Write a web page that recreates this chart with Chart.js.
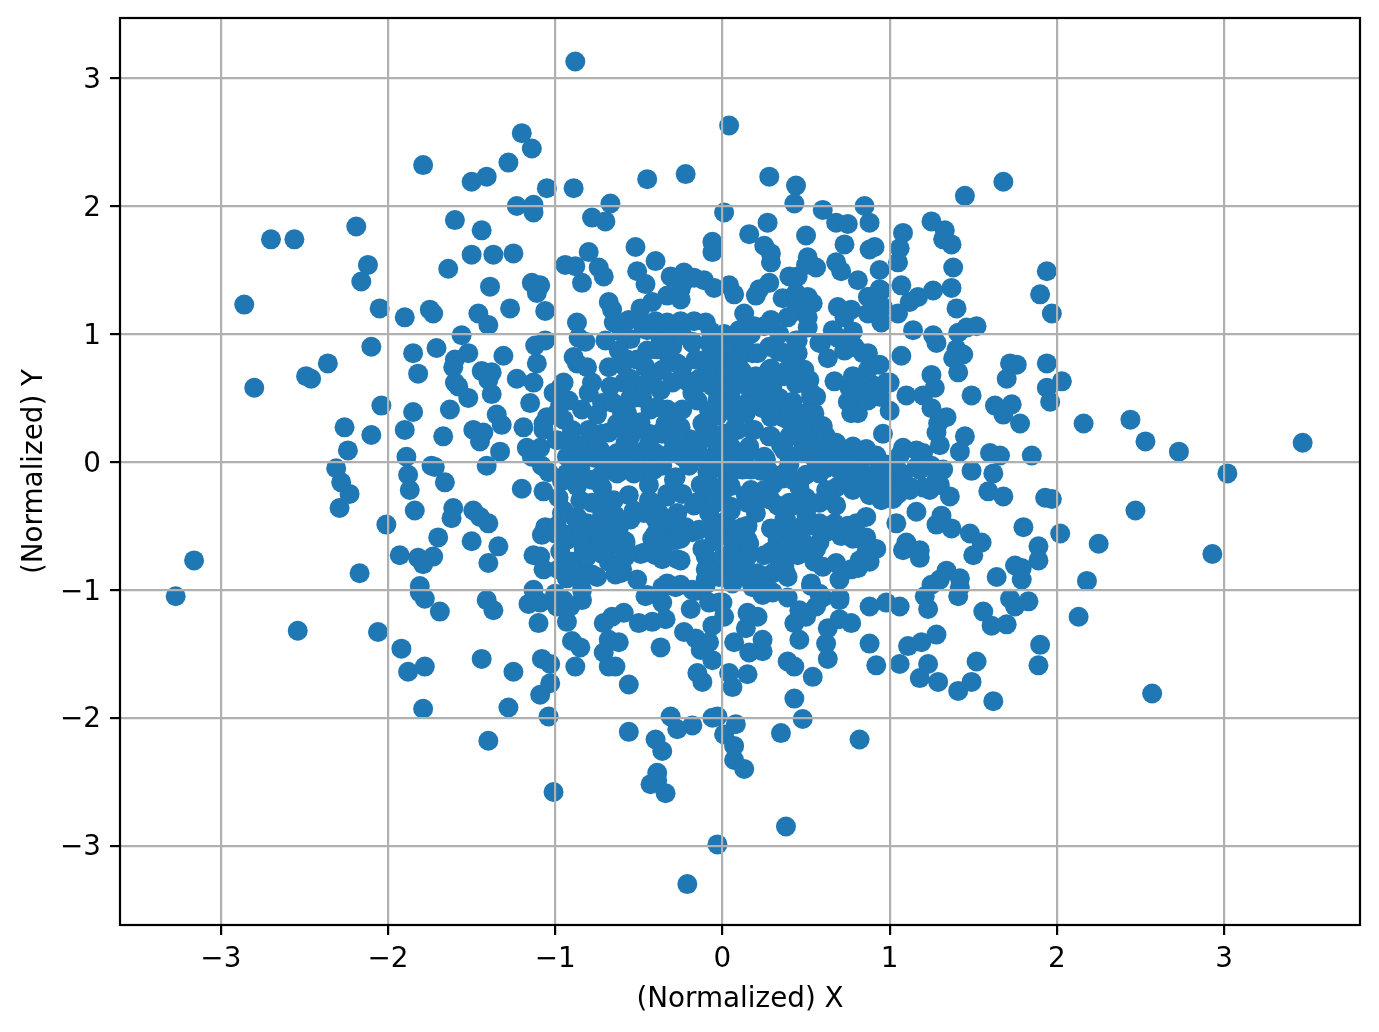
<!DOCTYPE html>
<html>
<head>
<meta charset="utf-8">
<style>
  html, body { margin: 0; padding: 0; background: #fff; }
  canvas { display: block; }
</style>
<script src="https://cdn.jsdelivr.net/npm/chart.js@4"></script>
</head>
<body>
<canvas id="myChart" width="1379" height="1032"></canvas>
<script>
// values, [x, y], grouped by quadrant
const upperLeft = [
  [-0.88,3.13],[-1.20,2.57],[-1.14,2.45],[-1.28,2.34],[-1.79,2.32],[-0.22,2.25],[-1.41,2.23],[-1.50,2.19],[-0.45,2.21],[-0.89,2.14],
  [-1.05,2.14],[-1.23,2.00],[-1.13,2.01],[-1.13,1.95],[-0.67,2.02],[-0.78,1.91],[-0.70,1.88],[-1.60,1.89],[-2.19,1.84],[-1.44,1.81],
  [-2.70,1.74],[-2.56,1.74],[-0.06,1.72],[-0.06,1.64],[-0.52,1.68],[-0.80,1.64],[-1.25,1.63],[-1.50,1.62],[-1.37,1.62],[-0.40,1.57],
  [-2.12,1.54],[-2.16,1.41],[-1.64,1.51],[-0.94,1.54],[-0.88,1.53],[-0.74,1.52],[-0.71,1.45],[-0.84,1.40],[-0.51,1.49],[-0.31,1.45],
  [-0.23,1.48],[-0.23,1.41],[-0.17,1.44],[-0.11,1.42],[-1.14,1.40],[-1.09,1.38],[-1.11,1.32],[-0.46,1.39],[-1.39,1.37],[-0.05,1.36],
  [-0.25,1.35],[-0.33,1.30],[-0.25,1.27],[-0.42,1.25],[-0.68,1.25],[-0.66,1.19],[-0.49,1.20],[-1.27,1.20],[-2.05,1.20],[-2.86,1.23],
  [-1.75,1.19],[-1.73,1.16],[-1.90,1.13],[-1.46,1.16],[-1.06,1.18],[-1.40,1.07],[-1.56,0.99],[-1.06,0.95],[-1.12,0.91],[-1.11,0.77],
  [-1.85,0.85],[-1.71,0.89],[-1.52,0.85],[-1.31,0.83],[-1.60,0.80],[-1.61,0.74],[-1.82,0.69],[-1.44,0.71],[-1.38,0.70],[-1.40,0.64],
  [-1.23,0.65],[-1.13,0.62],[-1.60,0.62],[-1.58,0.59],[-1.52,0.50],[-1.38,0.53],[-1.63,0.41],[-1.85,0.39],[-1.15,0.46],[-1.35,0.37],
  [-1.32,0.29],[-1.49,0.25],[-1.43,0.23],[-1.45,0.16],[-1.67,0.20],[-1.90,0.25],[-1.19,0.27],[-1.07,0.30],[-0.95,0.33],[-1.33,0.08],
  [-1.89,0.04],[-1.17,0.11],[-1.09,0.11],[-1.14,0.04],[-0.97,0.58],[-0.95,0.62],[-1.01,0.54],[-0.80,0.54],[-0.84,0.41],[-0.75,0.37],
  [-0.67,0.59],[-0.59,0.62],[-0.53,0.50],[-0.68,0.23],[-0.63,0.27],[-0.89,0.82],[-0.87,0.77],[-0.81,0.74],[-0.68,0.74],[-0.60,0.76],
  [-0.51,0.80],[-0.87,1.09],[-0.86,0.97],[-0.82,0.94],[-0.65,1.09],[-0.56,1.11],[-0.48,1.09],[-0.40,1.10],[-0.33,1.09],[-0.25,1.10],
  [-0.17,1.10],[-0.10,1.09],[-0.33,1.03],[-0.45,1.03],[-0.55,0.96],[-0.46,0.74],[-0.39,0.88],[-0.30,0.90],[-0.18,0.93],[-0.06,0.85],
  [-0.27,0.77],[-0.36,0.72],[-0.48,0.60],[-0.37,0.56],[-0.30,0.62],[-0.21,0.63],[-0.09,0.70],[-0.06,0.59],[-0.03,0.48],[-0.15,0.48],
  [-0.24,0.41],[-0.33,0.41],[-0.43,0.41],[-0.60,0.38],[-0.49,0.31],[-0.33,0.23],[-0.37,0.23],[-0.13,0.17],[-0.07,0.23],[-0.03,0.12],
  [-0.55,0.08],[-0.48,0.08],[-0.40,0.07],[-0.73,0.07],[-0.90,0.16],[-0.84,0.13],[-0.89,0.04],[-0.81,0.04],[-0.31,0.07],[-0.24,0.04],
  [-0.18,0.09],[-0.12,0.04],[-0.03,0.36],[-0.08,0.40],[-0.12,0.30],[-0.04,0.74],[-0.08,0.93],[-0.02,0.95],[-0.20,0.18],[-0.29,0.15],
  [-0.34,0.30],[-0.30,0.36],[-0.48,0.50],[-0.42,0.66],[-0.55,0.65],[-0.33,0.85],[-0.24,0.74],[-0.14,0.65],[-0.04,0.65],[-0.45,0.87],
  [-0.37,0.96],[-0.24,0.99],[-0.07,1.02],[-0.72,0.22],[-0.62,0.05],[-0.68,0.04],[-0.44,0.22],[-0.25,0.27],[-0.04,0.02],[-0.76,0.03],
  [-2.24,0.09],[-2.26,0.27],[-2.10,0.21],[-2.04,0.44],[-2.49,0.67],[-2.46,0.65],[-2.36,0.77],[-2.80,0.58],[-2.10,0.90],[-0.47,1.04],
  [-0.35,0.93],[-0.18,0.94],[-0.16,0.80],[-0.08,0.82],[-0.12,0.62],[-0.18,0.54],[-0.39,0.43],[-0.57,0.38],[-0.63,0.30],
  [-0.28,0.27],[-0.36,0.22],[-0.28,0.20],[-0.16,0.17],[-0.93,0.17],[-0.93,0.04],[-0.73,0.09],[-0.63,0.07],[-0.53,0.04],[-0.41,0.04],
  [-0.28,0.07],[-0.99,0.17],[-0.99,0.38],[-1.05,0.35],[-1.07,0.25],[-0.49,0.80],[-0.57,0.80],[-0.45,0.61],[-0.78,0.62],
  [-0.72,0.46],[-0.65,0.46],[-0.55,0.50],[-0.75,0.18],[-0.55,0.20],[-0.52,0.28],[-0.58,0.15],[-0.44,0.14],[-0.90,0.25],[-0.97,0.45],
  [-0.92,0.48],[-0.62,0.87],[-0.70,0.95],[-0.60,1.01],[-0.80,0.25]
];
const upperRight = [
  [0.04,2.63],[0.28,2.23],[0.44,2.16],[1.68,2.19],[1.45,2.08],[0.43,2.02],[0.85,2.00],[0.60,1.97],[0.01,1.95],[0.27,1.87],
  [0.68,1.87],[0.75,1.86],[0.88,1.87],[1.25,1.88],[1.33,1.81],[1.08,1.79],[1.32,1.74],[1.37,1.70],[0.50,1.77],[0.16,1.78],
  [0.91,1.68],[0.88,1.66],[0.73,1.70],[0.25,1.69],[0.29,1.63],[0.29,1.56],[1.06,1.67],[1.05,1.56],[0.51,1.60],[0.50,1.54],
  [0.56,1.52],[0.68,1.56],[0.71,1.49],[0.94,1.50],[1.38,1.52],[1.94,1.49],[0.40,1.45],[0.45,1.45],[0.81,1.42],[0.04,1.38],
  [0.28,1.40],[0.22,1.35],[0.20,1.30],[0.07,1.31],[0.87,1.29],[0.95,1.34],[1.07,1.38],[1.26,1.34],[1.37,1.36],[1.90,1.31],
  [1.17,1.29],[1.12,1.25],[1.40,1.20],[1.97,1.16],[0.36,1.28],[0.44,1.32],[0.51,1.29],[0.54,1.24],[0.44,1.18],[0.13,1.16],
  [0.88,1.29],[0.94,1.35],[0.96,1.21],[1.05,1.16],[0.87,1.16],[0.95,1.09],[0.69,1.21],[0.77,1.19],[0.73,1.13],[0.29,1.11],
  [0.39,1.13],[0.51,1.13],[0.51,1.05],[0.66,1.03],[0.78,1.02],[1.14,1.03],[1.26,0.99],[1.28,0.93],[1.41,1.01],[1.46,1.05],
  [1.52,1.06],[1.40,0.88],[1.44,0.84],[1.38,0.81],[1.41,0.70],[1.07,0.83],[1.25,0.68],[1.27,0.58],[1.49,0.52],[1.10,0.52],
  [1.20,0.52],[1.25,0.42],[1.29,0.30],[1.34,0.35],[1.28,0.23],[1.30,0.13],[1.45,0.20],[1.42,0.08],[0.96,0.22],[1.00,0.40],
  [0.77,0.38],[0.81,0.38],[0.75,0.47],[1.72,0.77],[1.76,0.76],[1.70,0.65],[1.94,0.77],[1.94,0.58],[1.96,0.47],[2.03,0.63],
  [1.63,0.44],[1.73,0.45],[1.68,0.37],[1.78,0.30],[1.60,0.07],[1.66,0.05],[1.85,0.05],[1.08,0.11],[1.16,0.09],[1.20,0.07],
  [2.16,0.30],[2.44,0.33],[2.53,0.16],[2.73,0.08],[3.47,0.15],[0.28,0.20],[0.18,0.25],[0.28,0.72],[0.18,0.85],[0.33,0.87],
  [0.45,0.95],[0.59,0.93],[0.69,0.97],[0.79,0.90],[0.87,0.85],[0.94,0.76],[0.63,0.81],[0.73,0.87],[0.67,0.63],[0.76,0.58],
  [0.84,0.64],[0.78,0.50],[0.90,0.60],[0.85,0.51],[0.93,0.52],[1.00,0.62],[0.45,0.70],[0.52,0.64],[0.37,0.70],[0.12,0.98],
  [0.04,0.93],[0.10,0.82],[0.02,0.72],[0.12,0.70],[0.06,0.60],[0.20,0.58],[0.30,0.60],[0.16,0.48],[0.08,0.44],[0.24,0.42],
  [0.34,0.50],[0.42,0.47],[0.53,0.50],[0.36,0.35],[0.44,0.32],[0.52,0.28],[0.60,0.25],[0.47,0.18],[0.35,0.13],[0.54,0.10],
  [0.14,0.38],[0.07,0.26],[0.16,0.12],[0.04,0.13],[0.26,0.02],[0.40,0.04],[0.55,0.03],[0.70,0.05],[0.78,0.12],[0.86,0.10],
  [0.92,0.03],[0.98,-0.02],[1.06,0.05],[0.03,0.03],[0.13,0.05],[0.05,0.50],
  [0.05,0.95],[0.10,1.03],[0.05,0.82],[0.13,0.90],[0.21,0.85],[0.11,0.72],[0.03,0.69],[0.05,0.56],[0.15,0.59],[0.29,0.73],
  [0.20,0.67],[0.23,0.51],[0.15,0.43],[0.07,0.38],[0.33,0.46],[0.40,0.43],[0.50,0.38],[0.37,0.67],[0.43,0.72],[0.49,0.72],
  [0.44,0.61],[0.53,0.54],[0.56,0.51],[0.29,0.35],[0.39,0.33],[0.49,0.30],[0.55,0.38],[0.60,0.28],[0.19,0.25],[0.09,0.25],
  [0.29,0.20],[0.40,0.20],[0.51,0.17],[0.62,0.20],[0.68,0.15],[0.86,0.07],[0.92,0.05],[0.05,0.12],[0.15,0.07],
  [0.25,0.04],[0.37,0.09],[0.47,0.07],[0.57,0.07],[0.67,0.04],[0.76,0.04],[0.58,0.93],[0.73,0.88],
  [0.78,0.90],[0.84,0.85],[0.87,0.72],[0.78,0.67],[0.84,0.59],[0.94,0.51],[0.87,0.48],[0.98,0.62],
  [0.44,0.95],[0.25,1.06],[0.19,1.06],[0.35,0.86],[0.41,0.77],
  [0.17,1.00],[0.01,1.00],[0.01,0.88],[0.01,0.43],[0.01,0.22],[0.28,0.90],[0.34,1.00],[0.60,0.12],[0.45,0.85]
];
const lowerLeft = [
  [-1.88,-0.10],[-1.87,-0.22],[-1.74,-0.03],[-1.41,-0.03],[-1.66,-0.16],[-1.84,-0.38],[-1.61,-0.36],[-1.62,-0.44],[-1.49,-0.38],[-1.45,-0.43],
  [-1.40,-0.48],[-1.70,-0.59],[-1.50,-0.62],[-1.34,-0.66],[-1.40,-0.79],[-1.93,-0.73],[-1.82,-0.75],[-1.73,-0.74],[-1.79,-0.80],[-1.81,-0.97],
  [-1.81,-1.02],[-1.78,-1.07],[-1.69,-1.17],[-1.41,-1.08],[-1.37,-1.16],[-1.20,-0.21],[-1.07,-0.23],[-1.13,-0.73],[-1.09,-0.74],[-1.07,-0.84],
  [-1.06,-0.51],[-1.08,-0.57],[-1.13,-1.00],[-1.16,-1.11],[-1.09,-1.10],[-1.10,-1.26],[-1.44,-1.54],[-1.25,-1.64],[-1.78,-1.60],[-1.88,-1.64],
  [-1.92,-1.46],[-1.28,-1.92],[-1.79,-1.93],[-1.08,-1.54],[-1.03,-1.58],[-1.03,-1.73],[-1.09,-1.82],[-1.04,-1.99],[-0.88,-1.60],[-0.90,-1.40],
  [-0.85,-1.45],[-0.93,-1.25],[-0.99,-1.13],[-0.91,-1.13],[-0.84,-1.08],[-0.45,-1.04],[-0.36,-1.10],[-0.19,-1.15],[-0.71,-1.26],[-0.66,-1.21],
  [-0.59,-1.18],[-0.50,-1.26],[-0.42,-1.25],[-0.34,-1.23],[-0.68,-1.39],[-0.62,-1.41],[-0.71,-1.49],[-0.68,-1.60],[-0.64,-1.60],[-0.56,-1.74],
  [-0.37,-1.45],[-0.23,-1.33],[-0.16,-1.38],[-0.08,-1.41],[-0.06,-1.28],[-0.13,-1.47],[-0.06,-1.55],[-0.15,-1.65],[-0.12,-1.72],[-0.31,-1.99],
  [-0.18,-2.06],[-0.06,-2.00],[-0.03,-1.99],[-0.56,-2.11],[-0.40,-2.17],[-0.36,-2.26],[-0.39,-2.43],[-0.39,-2.49],[-0.43,-2.52],[-0.34,-2.59],
  [-1.01,-2.58],[-1.40,-2.18],[-0.27,-2.09],[-0.03,-2.99],[-0.21,-3.30],[-3.27,-1.05],[-3.16,-0.77],[-2.54,-1.32],[-2.06,-1.33],[-2.17,-0.87],
  [-2.01,-0.49],[-2.29,-0.36],[-2.28,-0.16],[-2.31,-0.05],[-2.23,-0.25],[-1.72,-0.04],[-1.04,-0.08],[-1.08,-0.03],[-0.96,-0.15],[-0.88,-0.15],
  [-0.78,-0.14],[-0.70,-0.05],[-0.62,-0.08],[-0.54,-0.04],[-0.46,-0.07],[-0.36,-0.03],[-0.28,-0.12],[-0.20,-0.03],[-0.09,-0.08],[-0.02,-0.05],
  [-0.72,-0.20],[-0.72,-0.31],[-0.56,-0.26],[-0.44,-0.18],[-0.42,-0.32],[-0.33,-0.25],[-0.17,-0.34],[-0.10,-0.30],[-0.02,-0.22],[-0.08,-0.40],
  [-0.96,-0.40],[-0.99,-0.50],[-0.88,-0.44],[-0.80,-0.52],[-0.72,-0.42],[-0.70,-0.50],[-0.62,-0.52],[-0.55,-0.45],[-0.47,-0.40],[-0.40,-0.45],
  [-0.35,-0.52],[-0.27,-0.52],[-0.18,-0.55],[-0.05,-0.48],[-0.01,-0.56],[-1.00,-0.56],[-0.92,-0.57],[-0.84,-0.56],[-0.75,-0.60],[-0.65,-0.65],
  [-0.58,-0.62],[-0.49,-0.72],[-0.42,-0.60],[-0.33,-0.63],[-0.27,-0.76],[-0.12,-0.68],[-0.05,-0.62],[-0.90,-0.78],[-0.85,-0.76],[-0.84,-0.88],
  [-0.93,-0.90],[-0.78,-0.88],[-0.72,-0.72],[-0.64,-0.88],[-0.60,-0.84],[-0.36,-0.76],[-0.36,-0.98],[-0.28,-0.98],[-0.46,-1.05],
  [-0.10,-0.84],[-0.04,-0.80],[-0.10,-0.92],[-0.02,-0.90],[-1.00,-1.03],[-0.98,-0.84],[-0.95,-1.08],[-0.76,-0.67],[-0.25,-0.60],[-0.40,-0.73],
  [-0.20,-0.02],[-0.13,-0.18],[-0.27,-0.40],[-0.85,-0.05],[-0.65,-0.30],[-0.16,-1.01],[-0.08,-1.10],[-0.84,-1.00],[-0.38,-0.40],
  [-0.93,-0.09],[-0.87,-0.19],[-0.95,-0.38],[-0.87,-0.43],[-0.81,-0.48],[-0.73,-0.11],[-0.71,-0.27],[-0.69,-0.40],[-0.73,-0.56],[-0.63,-0.09],
  [-0.53,-0.09],[-0.41,-0.06],[-0.29,-0.14],[-0.33,-0.27],[-0.44,-0.30],[-0.53,-0.38],[-0.40,-0.40],[-0.29,-0.45],[-0.22,-0.51],[-0.28,-0.61],
  [-0.40,-0.56],[-0.63,-0.53],[-0.58,-0.64],[-0.47,-0.71],[-0.35,-0.74],[-0.25,-0.77],[-0.08,-0.04],[-0.08,-0.17],[-0.04,-0.32],[-0.06,-0.51],
  [-0.16,-0.32],[-0.14,-0.53],[-0.10,-0.74],[-0.08,-0.84],[-0.91,-0.82],[-0.93,-0.91],[-0.83,-0.90],[-0.75,-0.90],[-0.75,-0.69],[-0.81,-0.74],
  [-0.61,-0.87],[-0.51,-0.92],[-0.33,-0.95],[-0.25,-0.96],[-0.18,-1.00],[-0.10,-0.96],[-0.02,-1.10],[-0.93,-0.61],[-0.85,-0.61],[-0.98,-0.28],
  [-0.85,-0.30],[-0.78,-0.32],[-0.64,-0.42],[-0.58,-0.74],[-0.68,-0.78],[-0.83,-0.68],[-0.97,-0.70],[-0.24,-0.25]
];
const lowerRight = [
  [1.49,-0.07],[1.62,-0.09],[1.59,-0.23],[1.68,-0.27],[1.93,-0.28],[1.97,-0.29],[1.80,-0.51],[1.89,-0.66],[1.89,-0.77],[1.75,-0.81],
  [1.79,-0.83],[1.79,-0.92],[1.64,-0.90],[1.50,-0.73],[1.55,-0.63],[1.48,-0.56],[1.37,-0.52],[1.28,-0.49],[1.31,-0.42],[1.16,-0.39],
  [1.04,-0.48],[1.10,-0.63],[1.08,-0.69],[1.18,-0.69],[1.18,-0.75],[1.34,-0.85],[1.42,-0.91],[1.25,-0.96],[1.30,-0.92],[1.42,-0.98],
  [1.41,-1.05],[1.21,-1.05],[1.23,-1.15],[0.98,-1.10],[1.06,-1.13],[0.88,-1.13],[1.56,-1.17],[1.61,-1.28],[1.70,-1.27],[1.72,-1.07],
  [1.75,-1.13],[1.83,-1.09],[1.11,-1.44],[1.19,-1.41],[1.28,-1.35],[0.88,-1.42],[0.92,-1.59],[1.06,-1.58],[1.23,-1.58],[1.18,-1.69],
  [1.29,-1.72],[1.41,-1.79],[1.49,-1.72],[1.52,-1.56],[1.62,-1.87],[1.90,-1.43],[1.89,-1.59],[2.13,-1.21],[2.18,-0.93],[2.25,-0.64],
  [2.02,-0.56],[2.47,-0.38],[2.93,-0.72],[2.57,-1.81],[3.02,-0.09],[0.54,-1.68],[0.39,-1.56],[0.43,-1.60],[0.43,-1.85],[0.48,-2.01],
  [0.63,-1.54],[0.62,-1.42],[0.63,-1.30],[0.46,-1.39],[0.70,-1.23],[0.77,-1.26],[0.24,-1.39],[0.24,-1.48],[0.16,-1.49],[0.07,-1.41],
  [0.15,-1.66],[0.04,-1.65],[0.06,-1.76],[0.43,-1.26],[0.50,-1.21],[0.56,-1.13],[0.15,-1.18],[0.21,-1.21],[0.14,-1.30],[0.24,-1.04],
  [0.30,-1.02],[0.39,-1.06],[0.53,-0.97],[0.60,-1.06],[0.70,-1.06],[0.00,-1.10],[0.01,-1.21],[0.70,-0.92],[0.60,-0.82],[0.68,-0.79],
  [0.77,-0.84],[0.81,-0.83],[0.88,-0.78],[0.92,-0.68],[0.86,-0.43],[0.86,-0.59],[0.80,-0.48],[0.71,-0.58],[0.88,-0.26],[1.02,-0.29],
  [1.01,-0.16],[0.58,-0.63],[0.51,-0.69],[0.50,-0.28],[0.68,-0.34],[0.68,-0.20],[0.78,-0.22],[0.36,-0.13],[0.25,-0.73],
  [0.33,-0.61],[0.34,-0.77],[0.38,-0.87],[0.32,-0.86],[0.21,-0.87],[0.09,-0.74],[0.10,-0.87],[0.06,-0.95],[0.38,-0.45],[0.29,-0.52],
  [0.12,-0.51],[0.20,-0.40],[0.05,-0.35],[0.14,-0.26],[0.02,-0.17],[0.24,-0.28],[0.30,-0.18],[0.42,-0.34],[0.40,-0.02],[0.23,-0.07],
  [0.12,-0.06],[0.03,-0.05],[0.50,-0.10],[0.62,-0.05],[0.72,-0.09],[0.82,-0.04],[0.94,-0.10],[1.06,-0.08],[1.16,-0.04],[1.25,-0.03],
  [1.32,-0.06],[1.20,-0.20],[1.30,-0.18],[1.36,-0.27],[1.13,-0.20],[1.05,-0.25],[0.45,-0.55],[0.55,-0.50],[0.62,-0.55],[0.45,-0.73],
  [0.02,-0.46],[0.06,-0.62],[0.16,-0.64],[0.00,-0.75],[0.48,-0.62],[0.12,-0.78],[0.00,-0.30],[0.18,-0.98],[0.78,-0.60],
  [0.07,-0.06],[0.17,-0.06],[0.27,-0.06],[0.37,-0.09],[0.58,-0.09],[0.70,-0.06],[0.82,-0.11],[0.92,-0.09],[1.08,-0.11],[1.18,-0.06],
  [1.28,-0.14],[1.24,-0.22],[1.12,-0.22],[0.05,-0.19],[0.17,-0.22],[0.25,-0.22],[0.62,-0.22],
  [0.58,-0.32],[0.40,-0.32],[0.29,-0.30],[0.15,-0.32],[0.05,-0.38],[0.50,-0.40],[0.37,-0.45],[0.15,-0.50],
  [0.05,-0.53],[0.48,-0.50],[0.58,-0.48],[0.67,-0.48],[0.15,-0.61],[0.05,-0.71],[0.15,-0.74],[0.35,-0.56],[0.44,-0.61],[0.39,-0.66],
  [0.29,-0.70],[0.37,-0.82],[0.30,-0.87],[0.39,-0.90],[0.23,-0.90],[0.13,-0.90],[0.05,-0.87],[0.11,-0.82],[0.84,-0.61],[0.86,-0.71],
  [0.82,-0.77],[0.53,-0.95],[0.58,-1.03],[0.70,-1.08],[0.46,-1.16],[0.08,-2.05],[0.07,-2.22],[0.07,-2.33],[0.13,-2.40],[0.01,-2.13],
  [0.35,-2.12],[0.38,-2.85],[0.82,-2.17],[0.33,-0.34],[0.46,-0.20],[0.75,-0.50],
  [0.55,-0.78],[0.28,-1.00],[0.96,-0.18],[0.75,-0.14],[0.88,-0.15],[0.42,-0.14],[0.56,-0.68],[0.95,-0.30]
];

const xTicks = [-3, -2, -1, 0, 1, 2, 3];
const yTicks = [-3, -2, -1, 0, 1, 2, 3];
const xLabel = '(Normalized) X';
const yLabel = '(Normalized) Y';

const allPoints = [...upperLeft, ...upperRight, ...lowerLeft, ...lowerRight]
  .map(p => ({ x: p[0], y: p[1] }));

const font = { family: '"DejaVu Sans"', size: 27.8 };
const gridColor = '#b0b0b0';

// four-sided axes box, the library only draws one side per scale
const frame = {
  id: 'frame',
  afterDraw(chart) {
    const { ctx, chartArea: a } = chart;
    ctx.save();
    ctx.strokeStyle = '#000';
    ctx.lineWidth = 2.2;
    ctx.strokeRect(a.left, a.top, a.right - a.left, a.bottom - a.top);
    ctx.restore();
  },
};

function axis(min, max, values, title, size, titlePadding, tickPadding, labelOffset) {
  return {
    type: 'linear',
    min,
    max,
    afterBuildTicks: scale => { scale.ticks = values.map(v => ({ value: v })); },
    afterFit: scale => {
      if (scale.isHorizontal()) scale.height = size;
      else scale.width = size;
      scale.paddingTop = scale.paddingBottom = scale.paddingLeft = scale.paddingRight = 0;
    },
    border: { display: false },
    grid: { color: gridColor, lineWidth: 2.2, tickColor: '#000', tickWidth: 2.2, tickLength: 10, z: 1 },
    ticks: {
      color: '#000',
      font,
      padding: tickPadding,
      labelOffset,
      maxRotation: 0,
      autoSkip: false,
      callback: v => String(v).replace('-', '\u2212'),
    },
    title: { display: true, text: title, color: '#000', font, padding: titlePadding },
  };
}

new Chart(document.getElementById('myChart').getContext('2d'), {
  type: 'scatter',
  data: {
    datasets: [{
      data: allPoints,
      backgroundColor: '#1f77b4',
      borderWidth: 0,
      pointRadius: 10,
      pointHoverRadius: 10,
    }],
  },
  options: {
    responsive: false,
    animation: false,
    devicePixelRatio: 1,
    layout: { autoPadding: false, padding: { top: 18, right: 19, bottom: 0, left: 0 } },
    plugins: { legend: { display: false }, tooltip: { enabled: false } },
    scales: {
      x: axis(-3.603, 3.813, xTicks, xLabel, 107, { top: 0, bottom: 16 }, 8, 0),
      y: axis(-3.62, 3.47, yTicks, yLabel, 120, { top: 18, bottom: 0 }, 9, 2.5),
    },
  },
  plugins: [frame],
});
</script>
</body>
</html>
